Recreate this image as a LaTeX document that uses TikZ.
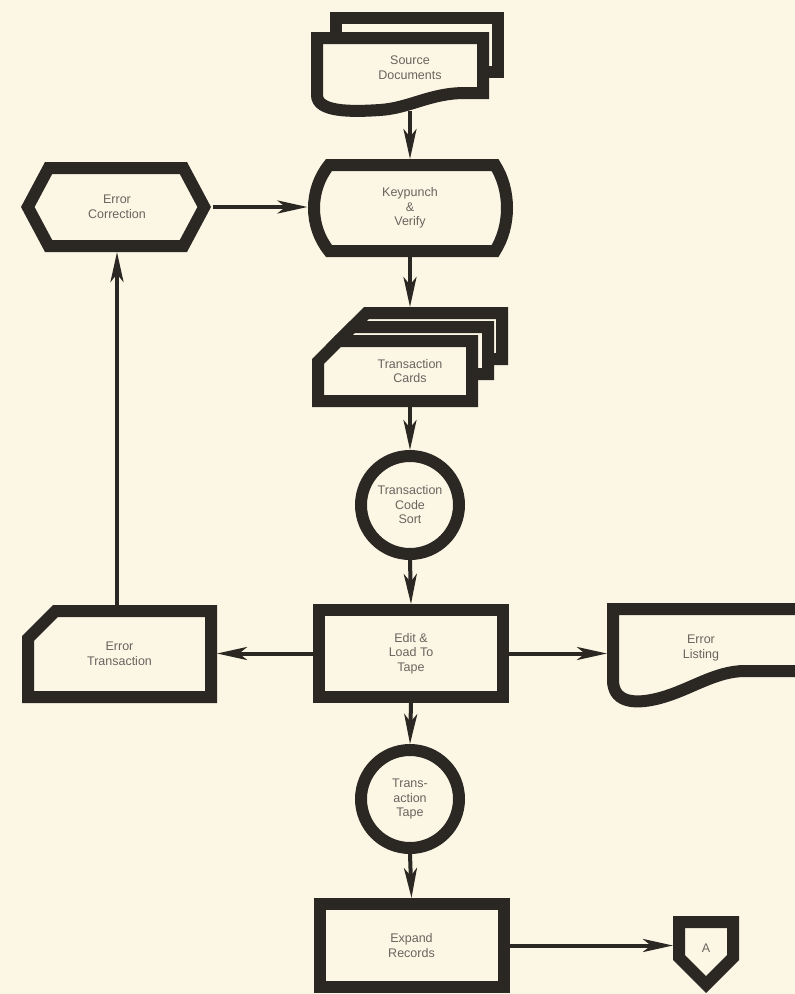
\documentclass[tikz,border=0pt]{standalone}
\usepackage{fontspec}
\setmainfont{Liberation Sans}
\usetikzlibrary{arrows.meta}
\definecolor{paper}{RGB}{252,247,229}
\definecolor{ink}{RGB}{43,39,34}
\definecolor{inkt}{RGB}{105,100,94}

\begin{document}
\begin{tikzpicture}[x=1pt,y=-1pt,>={Stealth[length=30pt,width=13pt,inset=8pt]},
  font=\fontsize{12.5}{14.5}\selectfont,
  outline/.style={draw=ink,line width=12pt,fill=paper,line join=miter},
  spot/.style={text=inkt,align=center,inner sep=0pt,outer sep=0pt},
  proc/.style={spot,draw=ink,fill=paper,line width=12pt,outer sep=6pt,minimum width=184pt,minimum height=87pt},
  disk/.style={spot,circle,draw=ink,fill=paper,line width=12pt,outer sep=6pt,minimum size=98pt},
  flow/.style={draw=ink,line width=4pt,->}]
\useasboundingbox (0,0) rectangle (795,994);
\fill[paper] (0,0) rectangle (795,994);
\clip (0,0) rectangle (795,994);

\draw[outline] (336,18) rectangle (498,72);
\draw[outline] (317,38) -- (483,38) -- (483,93) -- (465,93) .. controls (430,93) and (410,108) .. (380,110)
  .. controls (350,112) and (317,112) .. (317,95) -- cycle;
\draw[outline] (329,165) -- (495,165) .. controls (511,190) and (511,226) .. (495,251) -- (329,251)
  .. controls (309,226) and (309,190) .. (329,165) -- cycle;
\draw[outline] (48.6,168) -- (183.4,168) -- (204.2,207) -- (183.4,246) -- (48.6,246) -- (27.8,207) -- cycle;
\draw[outline] (340,339.5) -- (366.5,313) -- (502,313) -- (502,359) -- (340,359) -- cycle;
\draw[outline] (332,347.5) -- (352.5,327) -- (488,327) -- (488,374) -- (332,374) -- cycle;
\draw[outline] (318,361.5) -- (338.5,341) -- (472,341) -- (472,401) -- (318,401) -- cycle;
\draw[outline] (28,697) -- (28,638.5) -- (55.5,611) -- (211,611) -- (211,697) -- cycle;
\draw[outline] (805,609) -- (613,609) -- (613,680) .. controls (613,700) and (630,706) .. (660,698)
  .. controls (690,690) and (715,671) .. (745,671) -- (805,671);
\draw[outline] (679,922) -- (733,922) -- (733,957.5) -- (706,984.5) -- (679,957.5) -- cycle;

\node[spot,minimum height=87pt] (src) at (410,67.5) {Source\\Documents};
\node[spot,minimum width=205pt,minimum height=98pt] (key) at (410,208) {Keypunch\\\&\\Verify};
\node[spot,minimum width=192pt,minimum height=90pt] (fix) at (117,207) {Error\\Correction};
\node[spot,minimum height=100pt,label={[spot,yshift=-14pt]center:{Transaction\\Cards}}] (cards) at (410,357) {};
\node[disk] (sort) at (410,505) {Transaction\\Code\\Sort};
\node[proc] (edit) at (411,653.5) {Edit \&\\Load To\\Tape};
\node[spot,minimum width=195pt,minimum height=98pt] (errt) at (119.5,654) {Error\\Transaction};
\node[spot,minimum width=188pt] (lst) at (701,648) {Error\\Listing};
\node[disk] (tape) at (410,799) {Trans-\\action\\Tape};
\node[proc,minimum height=83pt] (exp) at (411.5,945.5) {Expand\\Records};
\node[spot,minimum width=66pt] (pent) at (706,948) {A};

\draw[flow] (src.south) -- (key.north);
\draw[flow] (key.south) -- (cards.north);
\draw[flow] (cards.south) -- (sort.north);
\draw[flow] (sort.south) -- (edit.north);
\draw[flow] (edit.south) -- (tape.north);
\draw[flow] (tape.south) -- (exp.north);
\draw[flow] (fix.east) -- (fix.east -| key.west);
\draw[flow] (edit.west) -- (edit.west -| errt.east);
\draw[flow] (edit.east) -- (edit.east -| lst.west);
\draw[flow] (errt.north -| fix.south) -- (fix.south);
\draw[flow] (exp.east) -- (exp.east -| pent.west);
\end{tikzpicture}
\end{document}
